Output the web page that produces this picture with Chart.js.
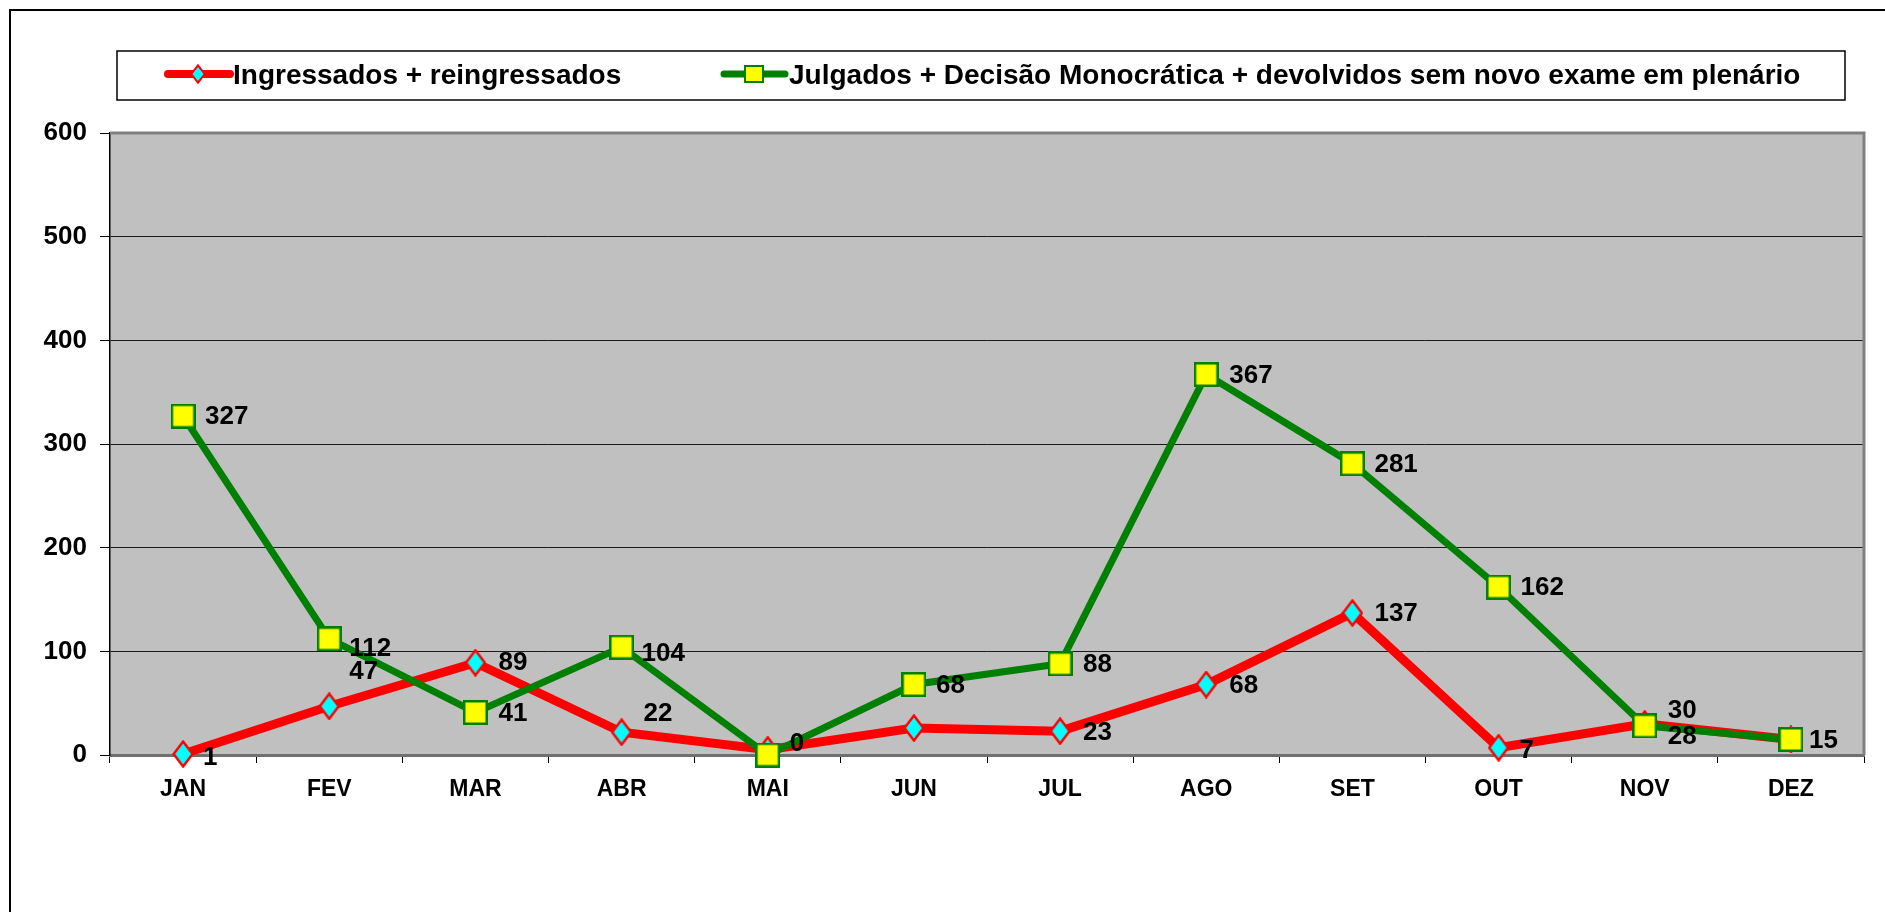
<!DOCTYPE html>
<html>
<head>
<meta charset="utf-8">
<script src="https://cdn.jsdelivr.net/npm/chart.js@4/dist/chart.umd.min.js"></script>
<style>
html,body{margin:0;padding:0;background:#fff;overflow:hidden}
#wrap{position:relative;width:1885px;height:912px}
</style>
</head>
<body>
<div id="wrap"><canvas id="c" width="1885" height="912"></canvas></div>
<script>
// ---------- data ----------
const months = ['JAN','FEV','MAR','ABR','MAI','JUN','JUL','AGO','SET','OUT','NOV','DEZ'];
const ingressados = [1, 47, 89, 22, 5, 26, 23, 68, 137, 7, 30, 15];
const julgados = [327, 112, 41, 104, 0, 68, 88, 367, 281, 162, 28, 15];
const yTicks = [0, 100, 200, 300, 400, 500, 600];
const seriesNames = ['Ingressados + reingressados',
  'Julgados + Decisão Monocrática + devolvidos sem novo exame em plenário'];

// ---------- label placement (style, offsets from the point; null = no label) ----------
const ingressadosLabelOffsets = [[20,3],[20,-35],[23,-1],[22,-19],null,null,[23,1],[23,0],[22,0],[21,2],[23,-14],null];
const julgadosLabelOffsets = [[22,0],[20,9],[23,0],[20,6],[22,-12],[22,0],[23,0],[23,0],[22,0],[22,0],[23,10],[18,0]];

const FONT = "'Liberation Sans', Arial, Helvetica, sans-serif";
Chart.defaults.font.family = FONT;

function makeDiamond(w, h, fill, stroke, lw) {
  const c = document.createElement('canvas'); c.width = w; c.height = h;
  const g = c.getContext('2d');
  const p = lw / 2 + 0.3;
  g.beginPath();
  g.moveTo(w / 2, p); g.lineTo(w - p, h / 2); g.lineTo(w / 2, h - p); g.lineTo(p, h / 2);
  g.closePath();
  g.fillStyle = fill; g.fill();
  g.lineWidth = lw; g.strokeStyle = stroke; g.lineJoin = 'miter'; g.stroke();
  return c;
}
function makeSquare(w, h, fill, stroke, lw) {
  const c = document.createElement('canvas'); c.width = w; c.height = h;
  const g = c.getContext('2d');
  g.fillStyle = fill; g.fillRect(0, 0, w, h);
  g.lineWidth = lw; g.strokeStyle = stroke; g.strokeRect(lw / 2, lw / 2, w - lw, h - lw);
  return c;
}
const diamondImg = makeDiamond(22, 28, '#00FFFF', '#FF0000', 2.5);
const squareImg = makeSquare(25, 25, '#FFFF00', '#008000', 2.5);
const diamondLegend = makeDiamond(16, 20, '#00FFFF', '#FF0000', 2);
const squareLegend = makeSquare(20, 18, '#FFFF00', '#008000', 2);

const framePlugin = {
  id: 'frame',
  beforeDraw(chart) {
    const { ctx, chartArea: a } = chart;
    ctx.save();
    ctx.fillStyle = '#fff';
    ctx.fillRect(0, 0, chart.width, chart.height);
    ctx.strokeStyle = '#000'; ctx.lineWidth = 2;
    ctx.beginPath();
    ctx.moveTo(10, chart.height + 5); ctx.lineTo(10, 10); ctx.lineTo(chart.width + 5, 10);
    ctx.stroke();
    ctx.fillStyle = '#C0C0C0';
    ctx.fillRect(a.left, a.top, a.right - a.left, a.bottom - a.top);
    ctx.restore();
  },
  beforeDatasetsDraw(chart) {
    const { ctx, chartArea: a } = chart;
    ctx.save();
    ctx.strokeStyle = '#808080'; ctx.lineWidth = 3;
    ctx.beginPath();
    ctx.moveTo(a.left, a.top); ctx.lineTo(a.right, a.top); ctx.lineTo(a.right, a.bottom);
    ctx.stroke();
    ctx.restore();
  }
};

const valueLabelPlugin = {
  id: 'valueLabels',
  afterDatasetsDraw(chart) {
    const { ctx } = chart;
    ctx.save();
    ctx.font = 'bold 26px ' + FONT;
    ctx.fillStyle = '#000';
    ctx.textAlign = 'left';
    ctx.textBaseline = 'middle';
    chart.data.datasets.forEach((ds, di) => {
      const meta = chart.getDatasetMeta(di);
      const offs = ds.labelOffsets;
      meta.data.forEach((pt, i) => {
        const o = offs[i];
        if (!o) return;
        ctx.fillText(String(ds.data[i]), pt.x + o[0], pt.y + o[1] + 1);
      });
    });
    ctx.restore();
  }
};

const legendPlugin = {
  id: 'boxLegend',
  afterDraw(chart) {
    const { ctx } = chart;
    const ds = chart.data.datasets;
    ctx.save();
    ctx.fillStyle = '#fff';
    ctx.fillRect(117, 51, 1728, 49);
    ctx.strokeStyle = '#000'; ctx.lineWidth = 1.5;
    ctx.strokeRect(117, 51, 1728, 49);
    const items = [
      { x0: 168, x1: 230, mx: 198, tx: 233, lw: 8, img: diamondLegend },
      { x0: 724, x1: 785, mx: 754, tx: 789, lw: 7, img: squareLegend }
    ];
    const cy = 74;
    items.forEach((it, i) => {
      ctx.strokeStyle = ds[i].borderColor; ctx.lineWidth = it.lw; ctx.lineCap = 'round';
      ctx.beginPath(); ctx.moveTo(it.x0, cy); ctx.lineTo(it.x1, cy); ctx.stroke();
      ctx.drawImage(it.img, Math.round(it.mx - it.img.width / 2), Math.round(cy - it.img.height / 2));
      ctx.fillStyle = '#000';
      ctx.font = 'bold 28px ' + FONT;
      ctx.textAlign = 'left'; ctx.textBaseline = 'middle';
      ctx.fillText(ds[i].label, it.tx, cy + 2);
    });
    ctx.restore();
  }
};

new Chart(document.getElementById('c'), {
  type: 'line',
  data: {
    labels: months,
    datasets: [
      {
        label: seriesNames[0],
        data: ingressados,
        borderColor: '#FF0000',
        borderWidth: 9,
        pointStyle: diamondImg,
        pointRadius: 12,
        pointHoverRadius: 12,
        tension: 0,
        clip: false,
        order: 1,
        labelOffsets: ingressadosLabelOffsets
      },
      {
        label: seriesNames[1],
        data: julgados,
        borderColor: '#008000',
        borderWidth: 7,
        pointStyle: squareImg,
        pointRadius: 12,
        pointHoverRadius: 12,
        tension: 0,
        clip: false,
        order: 0,
        labelOffsets: julgadosLabelOffsets
      }
    ]
  },
  options: {
    responsive: false,
    animation: false,
    events: [],
    layout: { padding: { left: 0, right: 12, top: 133, bottom: 0 } },
    plugins: { legend: { display: false }, tooltip: { enabled: false } },
    scales: {
      x: {
        offset: true,
        grid: { display: true, drawOnChartArea: false, drawTicks: true, tickLength: 8, offset: true, color: '#000', lineWidth: 1 },
        border: { display: true, color: '#707070', width: 3 },
        ticks: { color: '#000', font: { size: 23, weight: 'bold' }, padding: 13, maxRotation: 0, autoSkip: false },
        afterFit(scale) { scale.height = 157; }
      },
      y: {
        min: 0, max: 600,
        afterBuildTicks(scale) { scale.ticks = yTicks.map(v => ({ value: v })); },
        grid: {
          color: (c) => (c.tick && c.tick.value === 600) ? 'rgba(0,0,0,0)' : '#1a1a1a',
          tickColor: '#000', lineWidth: 1, tickLength: 10, drawTicks: true
        },
        border: { display: true, color: '#000', width: 1.5 },
        ticks: { color: '#000', font: { size: 26, weight: 'bold' }, padding: 13 },
        afterFit(scale) { scale.width = 110; }
      }
    }
  },
  plugins: [framePlugin, valueLabelPlugin, legendPlugin]
});
</script>
</body>
</html>
